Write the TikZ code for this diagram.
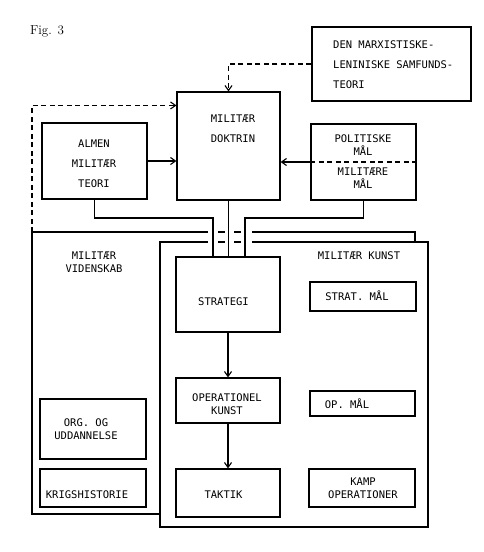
\documentclass[tikz,border=0pt]{standalone}
\usepackage{fontspec}
\usetikzlibrary{arrows.meta,calc}
\newfontfamily\twfont{DejaVu Sans Mono}
\tikzset{
  box/.style={draw, line width=1.1pt, inner sep=0pt},
  txt/.style={font=\twfont\fontsize{10.5}{13}\selectfont, align=center, inner sep=0pt},
  wtxt/.style={font=\twfont\fontsize{10.5}{20}\selectfont, align=center, inner sep=0pt},
  conn/.style={line width=1.1pt},
  thick box/.style={line width=2.2pt},
  arr/.style={line width=1.1pt, -{Straight Barb[length=5pt,width=7pt,line width=1.1pt]}},
  dash arr/.style={line width=1.1pt, dash pattern=on 5pt off 3.5pt, -{Straight Barb[length=5pt,width=7pt,line width=1.1pt]}},
  dline/.style={line width=1.1pt, dash pattern=on 5pt off 3.5pt},
}
\begin{document}
\begin{tikzpicture}[x=1pt,y=-1pt]
\useasboundingbox (0,0) rectangle (484,552);
\fill[white] (0,0) rectangle (484,552);

\node[font=\fontsize{13}{15}\selectfont, inner sep=0pt] (fig) at (47,31) {Fig. 3};

% upper boxes
\node[box, minimum width=159pt, minimum height=74pt] (marx) at (391.5,64) {};
\node[wtxt, align=left, anchor=west] (marxT) at (333,65) {DEN MARXISTISKE-\\LENINISKE SAMFUNDS-\\TEORI};
\node[box, minimum width=103pt, minimum height=108pt] (dok) at (228.5,146) {};
\node[wtxt] (dokT) at (233,129) {MILITÆR\\DOKTRIN};
\node[box, minimum width=105pt, minimum height=76pt] (almen) at (94.5,161) {};
\node[wtxt] (almenT) at (94,164) {ALMEN\\MILITÆR\\TEORI};
\node[box, minimum width=105pt, minimum height=76pt] (pol) at (363.5,162) {};
\draw[dline] (pol.west) -- (pol.east);
\node[txt] (polT) at (363,145.5) {POLITISKE\\MÅL};
\node[txt] (milT) at (363,178) {MILITÆRE\\MÅL};

% arrows into doktrin
\draw[dash arr] (marx.west) -| (dok.north);
\draw[arr] (almen.east) -- (almen.east -| dok.west);
\draw[arr] (pol.west) -- (pol.west -| dok.east);

% inner boxes of militaer kunst
\node[box, minimum width=104pt, minimum height=75pt] (strat) at (228,294.5) {};
\node[txt] (stratT) at (223.5,302) {STRATEGI};
\node[box, minimum width=104pt, minimum height=45pt] (opk) at (228,400.5) {};
\node[txt] (opkT) at (227,404.5) {OPERATIONEL\\KUNST};
\node[box, minimum width=104pt, minimum height=48pt] (tak) at (228,493) {};
\node[txt] (takT) at (223.5,495) {TAKTIK};
\node[box, minimum width=106pt, minimum height=29pt] (smal) at (363,296.5) {};
\node[txt] (smalT) at (357,296) {STRAT. MÅL};
\node[box, minimum width=105pt, minimum height=25pt] (omal) at (362.5,403.5) {};
\node[txt] (omalT) at (347,404) {OP. MÅL};
\node[box, minimum width=106pt, minimum height=38pt] (kamp) at (362,488) {};
\node[txt] (kampT) at (363,488.5) {KAMP\\OPERATIONER};

% militaer videnskab inner boxes
\node[box, minimum width=106pt, minimum height=60pt] (org) at (93,429) {};
\node[txt] (orgT) at (86,429.5) {ORG. OG\\UDDANNELSE};
\node[box, minimum width=106pt, minimum height=38pt] (krig) at (93,488) {};
\node[txt] (krigT) at (87,495) {KRIGSHISTORIE};

\draw[arr] (strat.south) -- (opk.north);
\draw[arr] (opk.south) -- (tak.north);

% big boxes
\coordinate (vidNW) at (32,232);
\draw[thick box] (208,232) -- (vidNW) -- (32,514) -- (160,514);
\draw[thick box] (252,232) -- (415,232) -- (415,242);
\draw[thick box] (208,242) -- (160,242) -- (160,527) -- (428,527) -- (428,242) -- (252,242);
\foreach \yy in {232,242} {
  \draw[thick box] (218,\yy) -- (225,\yy);
  \draw[thick box] (234,\yy) -- (241,\yy);
}
\node[txt] (vidT) at (94,262.5) {MILITÆR\\VIDENSKAB};
\node[txt] (kunT) at (359,256) {MILITÆR KUNST};

% feedback dashed
\draw[dash arr] (vidNW) |- ($(dok.north west)+(0,14)$);

% connectors down to strategi
\coordinate (jl) at (213,218);
\coordinate (jr) at (245,218);
\draw[conn] (almen.south) |- (jl) -- (jl |- strat.north);
\draw[conn] (dok.south) -- (dok.south |- strat.north);
\draw[conn] (pol.south) |- (jr) -- (jr |- strat.north);
\end{tikzpicture}
\end{document}
